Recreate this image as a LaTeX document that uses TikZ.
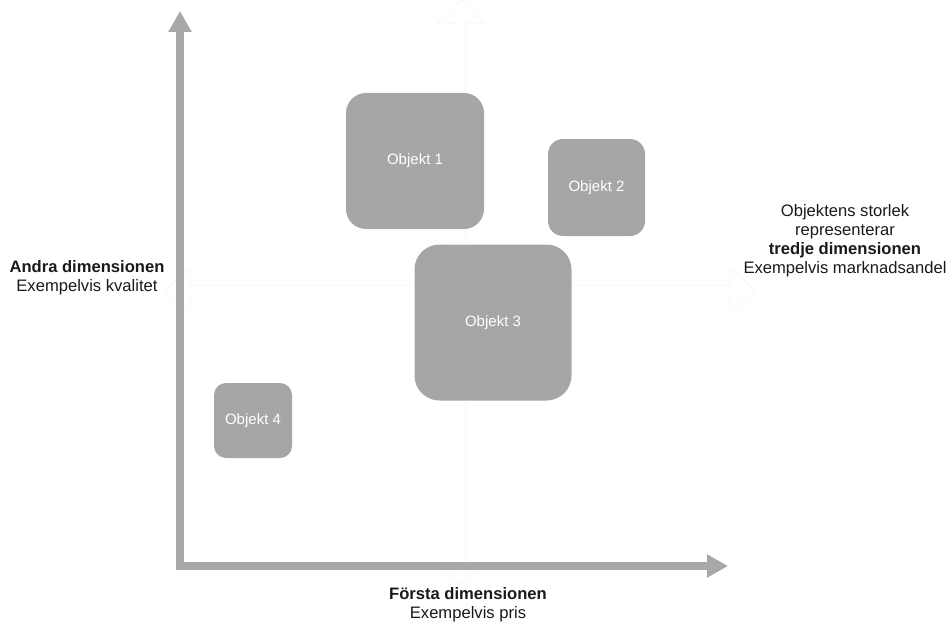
\documentclass[tikz,border=0pt]{standalone}
\usepackage{fontspec}
\setmainfont{Liberation Sans}
\usetikzlibrary{arrows.meta}
\definecolor{boxgray}{HTML}{A6A6A6}
\definecolor{axisgray}{HTML}{A8A8A8}
\definecolor{ghost}{HTML}{F5F5F5}
\definecolor{labelink}{HTML}{1A1A1A}
\tikzset{
  objbox/.style={fill=boxgray, draw=none, inner sep=0pt, text=white,
    font=\fontsize{15}{18}\selectfont},
  axisline/.style={draw=axisgray, line width=8pt, line join=miter,
    -{Triangle[length=21pt 0 0, width=22pt 0 0]}},
  ghostarrow/.style={draw=ghost, line width=0.7pt, line join=miter},
  dimlabel/.style={align=center, text=labelink, inner sep=0pt,
    font=\fontsize{16.6}{19}\selectfont},
}
\begin{document}
\begin{tikzpicture}[x=1pt, y=-1pt]
  \path[use as bounding box] (0,0) rectangle (949,623);

  % faint hollow double arrows marking the centre lines
  \draw[ghostarrow] (461,0) -- (484,23) -- (466,23) -- (466,562) -- (484,562)
    -- (461,585) -- (438,562) -- (456,562) -- (456,23) -- (438,23) -- cycle;
  \draw[ghostarrow] (165,290.5) -- (190,268) -- (190,285) -- (730,285) -- (730,268)
    -- (755,290.5) -- (730,313) -- (730,296) -- (190,296) -- (190,313) -- cycle;

  % the two main axes
  \coordinate (ytip) at (180,11);
  \coordinate (xtip) at (728,566);
  \coordinate (origin) at (180,566);
  \draw[axisline] (origin) -- (ytip);
  \draw[axisline] (176,566) -- (xtip);

  % objects, sized by the third dimension
  \node[objbox, minimum width=138pt, minimum height=136pt, rounded corners=20pt]
    (o1) at (415,161) {Objekt 1};
  \node[objbox, minimum width=97pt, minimum height=97pt, rounded corners=15pt]
    (o2) at (596.5,187.5) {Objekt 2};
  \node[objbox, minimum width=157pt, minimum height=156pt, rounded corners=25pt]
    (o3) at (493,322.5) {Objekt 3};
  \node[objbox, minimum width=78pt, minimum height=75pt, rounded corners=12pt]
    (o4) at (253,420.5) {Objekt 4};

  % axis and size descriptions
  \node[dimlabel] (ylab) at (87,278) {\textbf{Andra dimensionen}\\Exempelvis kvalitet};
  \node[dimlabel] (xlab) at (468,605) {\textbf{Första dimensionen}\\Exempelvis pris};
  \node[dimlabel] (zlab) at (845,241) {Objektens storlek\\representerar\\
    \textbf{tredje dimensionen}\\Exempelvis marknadsandel};
\end{tikzpicture}
\end{document}
